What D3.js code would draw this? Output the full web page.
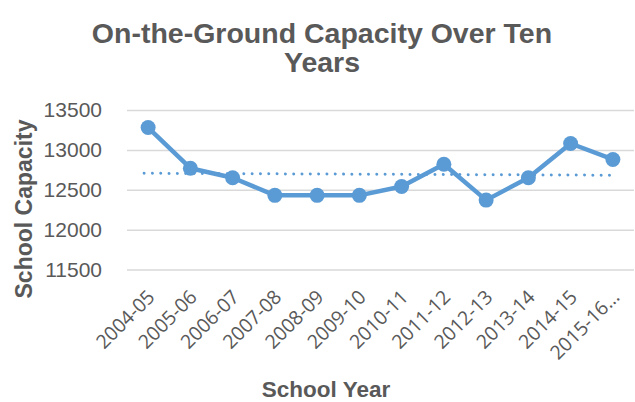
<!DOCTYPE html>
<html>
<head>
<meta charset="utf-8">
<script src="https://cdn.jsdelivr.net/npm/d3@7"></script>
<style>
  html, body { margin: 0; padding: 0; background: #fff; }
  svg { display: block; }
</style>
</head>
<body>
<svg id="chart" width="635" height="402"></svg>
<script>
const categories = ["2004-05","2005-06","2006-07","2007-08","2008-09","2009-10","2010-11","2011-12","2012-13","2013-14","2014-15","2015-16…"];
const capacity = [13280,12770,12650,12430,12430,12430,12540,12820,12370,12650,13080,12880];
const yTicks = [11500,12000,12500,13000,13500];
const titleLines = ["On-the-Ground Capacity Over Ten","Years"];
const yTitle = "School Capacity";
const xTitle = "School Year";

const svg = d3.select("#chart");
const W = 635, H = 402;
const plot = {left: 127, right: 634, top: 110, bottom: 269.5};
const grey = "#595959", blue = "#5B9BD5";

svg.append("rect").attr("width", W).attr("height", H).attr("fill", "#fff");

const x = d3.scaleBand().domain(categories).range([plot.left, plot.right]).padding(0);
const y = d3.scaleLinear().domain([11500, 13500]).range([plot.bottom, plot.top]);

// gridlines + y labels
const yAxis = d3.axisLeft(y).tickValues(yTicks).tickSize(-(plot.right - plot.left)).tickPadding(25).tickFormat(d3.format("d"));
const gy = svg.append("g").attr("transform", `translate(${plot.left},0)`).call(yAxis);
gy.select(".domain").remove();
gy.selectAll(".tick line").attr("stroke", "#D9D9D9").attr("stroke-width", 1.5);
gy.selectAll(".tick text").attr("fill", grey).attr("font-family", "Liberation Sans, Arial, sans-serif").attr("font-size", 21);

// x labels
const xAxis = d3.axisBottom(x).tickSize(0).tickPadding(0);
const gx = svg.append("g").attr("transform", `translate(0,${plot.bottom})`).call(xAxis);
gx.select(".domain").remove();
gx.selectAll(".tick text")
  .attr("fill", grey)
  .attr("font-family", "Open Sans, Liberation Sans, sans-serif")
  .attr("font-size", 19.5)
  .attr("text-anchor", "end")
  .attr("dy", "0.35em")
  .attr("transform", "translate(3,24) rotate(-45)");

// trendline (linear regression of the series)
const idx = capacity.map((_, i) => i + 1);
const mx = d3.mean(idx), my = d3.mean(capacity);
const slope = d3.sum(idx.map((xi, i) => (xi - mx) * (capacity[i] - my))) / d3.sum(idx.map(xi => (xi - mx) ** 2));
const fit = i => my + slope * (i + 1 - mx);
const cx = c => x(c) + x.bandwidth() / 2;
svg.append("line")
  .attr("x1", cx(categories[0]) - 4).attr("x2", cx(categories[categories.length - 1]))
  .attr("y1", y(fit(0))).attr("y2", y(fit(categories.length - 1)))
  .attr("stroke", blue).attr("stroke-width", 3)
  .attr("stroke-linecap", "round").attr("stroke-dasharray", "0.01 8.3");

// series line
const line = d3.line().x((d, i) => cx(categories[i])).y(d => y(d));
svg.append("path").datum(capacity).attr("d", line)
  .attr("fill", "none").attr("stroke", blue).attr("stroke-width", 4.5).attr("stroke-linejoin", "round");

svg.selectAll("circle.pt").data(capacity).enter().append("circle")
  .attr("class", "pt")
  .attr("cx", (d, i) => cx(categories[i])).attr("cy", d => y(d)).attr("r", 7.5)
  .attr("fill", blue);

// titles
svg.append("text").attr("x", 322).attr("y", 43).attr("text-anchor", "middle")
  .attr("font-family", "Liberation Sans, Arial, sans-serif").attr("font-weight", "bold").attr("font-size", 28.5)
  .attr("fill", grey)
  .selectAll("tspan").data(titleLines).enter().append("tspan")
  .attr("x", 322).attr("dy", (d, i) => i === 0 ? 0 : 28.5).text(d => d);

svg.append("text").attr("transform", "translate(31.5,209) rotate(-90)").attr("text-anchor", "middle")
  .attr("font-family", "Liberation Sans, Arial, sans-serif").attr("font-weight", "bold").attr("font-size", 23)
  .attr("fill", grey).text(yTitle);

svg.append("text").attr("x", 326).attr("y", 397).attr("text-anchor", "middle")
  .attr("font-family", "Liberation Sans, Arial, sans-serif").attr("font-weight", "bold").attr("font-size", 22.5)
  .attr("fill", grey).text(xTitle);
</script>
</body>
</html>
